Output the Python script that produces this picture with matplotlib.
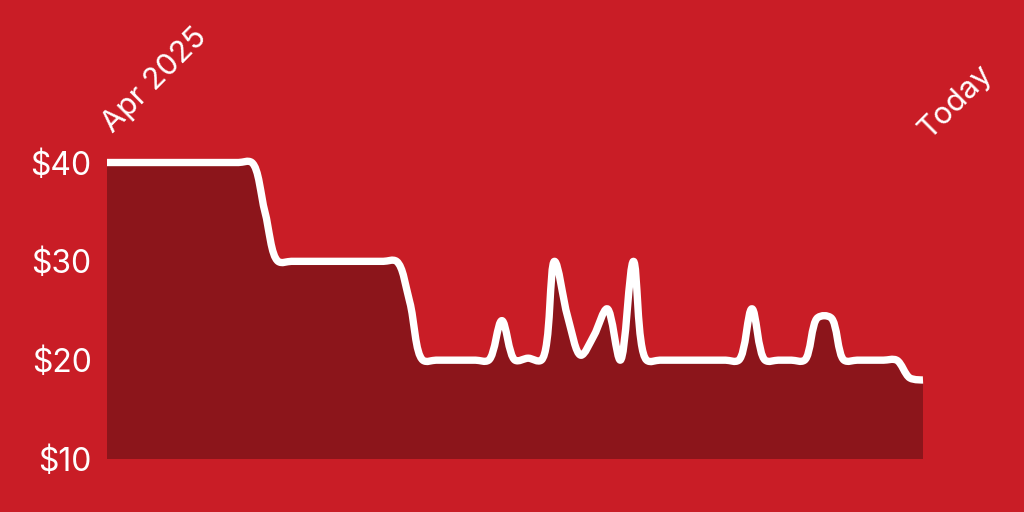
import matplotlib
matplotlib.use("Agg")
import matplotlib.pyplot as plt
from matplotlib.path import Path
from matplotlib.patches import PathPatch
import numpy as np

# ---- data: weekly price points since Apr 2025 ----
weeks = list(range(63))
prices = [40, 40, 40, 40, 40, 40, 40, 40, 40, 40, 40, 40,   # 0-11
          35,                                               # 12
          30, 30, 30, 30, 30, 30, 30, 30, 30, 30,           # 13-22
          25.9,                                             # 23
          20, 20, 20, 20, 20, 20,                           # 24-29
          24, 20, 20.2, 20, 30, 24.4, 20.5, 22.5, 25.2,     # 30-38
          20, 30, 20,                                       # 39-41
          20, 20, 20, 20, 20, 20, 20,                       # 42-48
          25.2, 20, 20, 20, 20,                             # 49-53
          24.3, 24.3, 20, 20, 20, 20, 20,                   # 54-60
          18.2, 18]                                         # 61-62
ytick_values = [10, 20, 30, 40]
ytick_labels = ["$10", "$20", "$30", "$40"]
xlabel_positions = [0, 62]
xlabel_texts = ["Apr 2025", "Today"]

BG = "#C91D26"
FILL = "#8C151B"
FONT = ["Inter", "DejaVu Sans"]

fig = plt.figure(figsize=(10.24, 5.12), dpi=100, facecolor=BG)
ax = fig.add_axes([107 / 1024, 1 - 459 / 512, 816 / 1024, 0.6756])
ax.set_facecolor(BG)
ax.set_xlim(weeks[0], weeks[-1])
ax.set_ylim(10, 45)


def catmull_rom_path(xs, ys, alpha=0.5):
    """Centripetal Catmull-Rom curve (as d3.curveCatmullRom) built in display
    space, returned in data coordinates."""
    pts = ax.transData.transform(np.column_stack([xs, ys]))
    n = len(pts)
    verts = [tuple(pts[0])]
    codes = [Path.MOVETO]
    for i in range(n - 1):
        p0 = pts[i - 1] if i > 0 else None
        p1, p2 = pts[i], pts[i + 1]
        p3 = pts[i + 2] if i + 2 < n else None
        l12_2a = np.linalg.norm(p2 - p1) ** (2 * alpha)
        l12_a = np.sqrt(l12_2a)
        c1 = p1.copy()
        if p0 is not None:
            l01_2a = np.linalg.norm(p1 - p0) ** (2 * alpha)
            l01_a = np.sqrt(l01_2a)
            if l01_a > 1e-12:
                a = 2 * l01_2a + 3 * l01_a * l12_a + l12_2a
                nn = 3 * l01_a * (l01_a + l12_a)
                c1 = (p1 * a - p0 * l12_2a + p2 * l01_2a) / nn
        c2 = p2.copy()
        if p3 is not None:
            l23_2a = np.linalg.norm(p3 - p2) ** (2 * alpha)
            l23_a = np.sqrt(l23_2a)
            if l23_a > 1e-12:
                b = 2 * l23_2a + 3 * l23_a * l12_a + l12_2a
                mm = 3 * l23_a * (l23_a + l12_a)
                c2 = (p2 * b + p1 * l23_2a - p3 * l12_2a) / mm
        verts += [tuple(c1), tuple(c2), tuple(p2)]
        codes += [Path.CURVE4] * 3
    data_verts = ax.transData.inverted().transform(np.array(verts))
    return [tuple(v) for v in data_verts], codes


verts, codes = catmull_rom_path(np.asarray(weeks, float), np.asarray(prices, float),
                                alpha=0.5)

fill_verts = verts + [(weeks[-1], 10), (weeks[0], 10), (weeks[0], prices[0])]
fill_codes = codes + [Path.LINETO, Path.LINETO, Path.CLOSEPOLY]
ax.add_patch(PathPatch(Path(fill_verts, fill_codes), facecolor=FILL,
                       edgecolor="none", zorder=1))
ax.add_patch(PathPatch(Path(verts, codes), facecolor="none", edgecolor="white",
                       lw=5.3, capstyle="butt", joinstyle="round", zorder=3,
                       clip_on=False))

for s in ax.spines.values():
    s.set_visible(False)
ax.set_xticks([])
ax.set_yticks(ytick_values)
ax.set_yticklabels(ytick_labels, fontsize=23, color="white", family=FONT)
ax.tick_params(axis="y", length=0, pad=11)

for k, (xp, txt) in enumerate(zip(xlabel_positions, xlabel_texts)):
    offset = (6, 29) if k == 0 else (6, 23)
    ax.annotate(txt, xy=(xp, 40), xytext=offset, textcoords="offset pixels",
                rotation=45, rotation_mode="anchor", ha="left", va="baseline",
                fontsize=22, color="white", family=FONT, annotation_clip=False)

fig.savefig("out.png", dpi=100, facecolor=BG)
